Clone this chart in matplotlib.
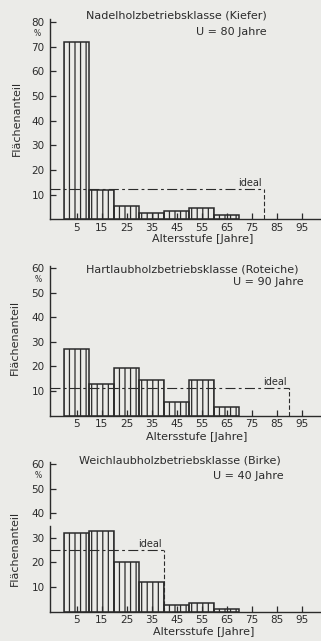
import matplotlib
matplotlib.use("Agg")
import matplotlib.pyplot as plt
import matplotlib.transforms as mtransforms

W, H = 321, 641
BG = "#ebebe8"
INK = "#2b2b2b"

# ---- data ----
age_centers = [5, 15, 25, 35, 45, 55, 65]
kiefer = [72, 12, 5.5, 2.5, 3.5, 4.5, 2]
roteiche = [27, 13, 19.5, 14.5, 5.5, 14.5, 3.5]
birke = [32, 33, 20, 12, 2.5, 3.5, 1]
umtrieb = [80, 90, 40]
ideal = [100 / 80 * 10, 100 / 90 * 10, 100 / 40 * 10]
x_ticks = [5, 15, 25, 35, 45, 55, 65, 75, 85, 95]
y_ticks = [[10, 20, 30, 40, 50, 60, 70, 80],
           [10, 20, 30, 40, 50, 60],
           [10, 20, 30, 40, 50, 60]]
titles = ["Nadelholzbetriebsklasse (Kiefer)",
          "Hartlaubholzbetriebsklasse (Roteiche)",
          "Weichlaubholzbetriebsklasse (Birke)"]
subtitles = ["U = 80 Jahre", "U = 90 Jahre", "U = 40 Jahre"]
ylabel = "Flächenanteil"
xlabel = "Altersstufe [Jahre]"

plt.rcParams["font.family"] = ["DejaVu Sans"]
plt.rcParams["hatch.linewidth"] = 0.9
FS_T = 8
FS_L = 8
FS_TICK = 7.5

fig = plt.figure(figsize=(W / 100, H / 100), dpi=100, facecolor=BG)

def px_rect(x0, ytop, x1, ybot):
    return [x0 / W, 1 - ybot / H, (x1 - x0) / W, (ybot - ytop) / H]

def ftext(x, y, s, **kw):
    kw.setdefault("fontsize", FS_L)
    kw.setdefault("color", INK)
    fig.text(x / W, 1 - y / H, s, **kw)

rects = [px_rect(50, 19.4, 321, 219.5),
         px_rect(50, 265.5, 321, 415.5),
         px_rect(50, 462, 321, 611.5)]
ylims = [81, 61, 61]
series = [kiefer, roteiche, birke]

for i, ax_rect in enumerate(rects):
    ax = fig.add_axes(ax_rect)
    ax.set_facecolor("none")
    ax.bar(age_centers, series[i], width=10, fill=False, hatch="|||",
           edgecolor=INK, linewidth=1.1)
    ax.set_xlim(-5.7, 102.7)
    ax.set_ylim(0, ylims[i])
    for s in ["top", "right"]:
        ax.spines[s].set_visible(False)
    for s in ["left", "bottom"]:
        ax.spines[s].set_color(INK)
        ax.spines[s].set_linewidth(1.0)
    ax.set_xticks(x_ticks)
    ax.set_yticks(y_ticks[i])
    ax.tick_params(direction="in", length=4, width=0.9, color=INK,
                   labelsize=FS_TICK, labelcolor=INK)
    ax.tick_params(axis="y", pad=4)
    ax.tick_params(axis="x", pad=2.5)
    # ideal line
    U = umtrieb[i]
    iv = ideal[i]
    ax.plot([-5.7, U], [iv, iv], color=INK, lw=0.8,
            linestyle=(0, (9, 3, 2.5, 3)), clip_on=False)
    ax.plot([U, U], [0, iv], color=INK, lw=0.8,
            linestyle=(0, (4, 2)))
    ax.text(U - 1, iv + 2.4, "ideal", ha="right", va="center",
            fontsize=7, color=INK)
    if i == 2:
        # axis break in the y axis
        ax.spines["left"].set_visible(False)
        tr = mtransforms.blended_transform_factory(ax.transAxes, ax.transData)
        ax.plot([0, 0], [0, 35], color=INK, lw=1.0, transform=tr, clip_on=False)
        ax.plot([0, 0], [38, 61], color=INK, lw=1.0, transform=tr, clip_on=False)

# titles
ftext(176.7, 16, titles[0], ha="center", va="center", fontsize=FS_T)
ftext(267, 32, subtitles[0], ha="right", va="center", fontsize=FS_T)
ftext(192, 270, titles[1], ha="center", va="center", fontsize=FS_T)
ftext(304, 282, subtitles[1], ha="right", va="center", fontsize=FS_T)
ftext(179.5, 460.5, titles[2], ha="center", va="center", fontsize=FS_T)
ftext(284, 476, subtitles[2], ha="right", va="center", fontsize=FS_T)

# y labels
for (x, y) in [(17, 118), (15, 337), (15, 548)]:
    ftext(x, y, ylabel, ha="center", va="center", rotation=90)
# percent signs
for (x, y) in [(37, 33), (38, 279), (38, 476)]:
    ftext(x, y, "%", ha="center", va="center", fontsize=5.5)
# x labels
for (x, y) in [(202.5, 239), (197, 437), (204, 632)]:
    ftext(x, y, xlabel, ha="center", va="center")

fig.savefig("out.png", dpi=100, facecolor=BG)
